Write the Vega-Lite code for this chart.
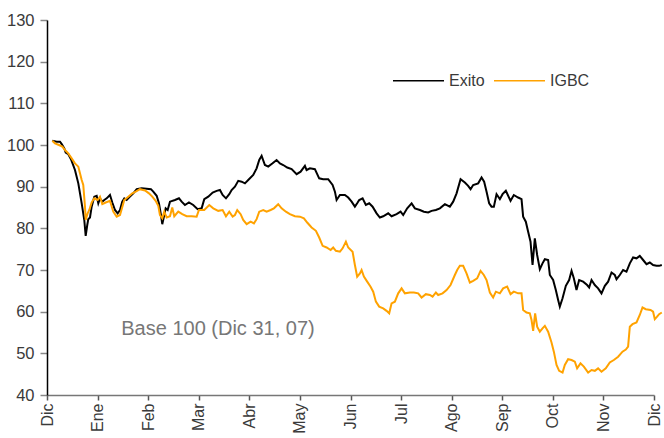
{
  "$schema": "https://vega.github.io/schema/vega-lite/v6.json",
  "width": 607,
  "height": 375,
  "autosize": {"type": "none"},
  "padding": {"left": 47, "top": 20, "right": 10, "bottom": 43},
  "background": "white",
  "config": {
    "view": {"stroke": null},
    "font": "Liberation Sans, Arial, sans-serif"
  },
  "datasets": {
    "series": [
      {"s":"Exito","t":0.105,"v":101.0},{"s":"Exito","t":0.192,"v":100.8},{"s":"Exito","t":0.257,"v":100.8},{"s":"Exito","t":0.291,"v":100.2},{"s":"Exito","t":0.342,"v":99.2},{"s":"Exito","t":0.370,"v":98.2},{"s":"Exito","t":0.421,"v":97.8},{"s":"Exito","t":0.474,"v":96.6},{"s":"Exito","t":0.553,"v":94.0},{"s":"Exito","t":0.619,"v":90.8},{"s":"Exito","t":0.686,"v":86.0},{"s":"Exito","t":0.737,"v":82.0},{"s":"Exito","t":0.765,"v":78.2},{"s":"Exito","t":0.796,"v":80.8},{"s":"Exito","t":0.816,"v":82.2},{"s":"Exito","t":0.850,"v":82.6},{"s":"Exito","t":0.883,"v":85.2},{"s":"Exito","t":0.935,"v":87.6},{"s":"Exito","t":0.982,"v":87.8},{"s":"Exito","t":1.014,"v":86.0},{"s":"Exito","t":1.047,"v":87.2},{"s":"Exito","t":1.093,"v":86.4},{"s":"Exito","t":1.132,"v":86.8},{"s":"Exito","t":1.180,"v":87.2},{"s":"Exito","t":1.245,"v":88.0},{"s":"Exito","t":1.291,"v":86.2},{"s":"Exito","t":1.344,"v":84.4},{"s":"Exito","t":1.397,"v":83.6},{"s":"Exito","t":1.443,"v":84.4},{"s":"Exito","t":1.488,"v":86.4},{"s":"Exito","t":1.528,"v":87.2},{"s":"Exito","t":1.575,"v":86.8},{"s":"Exito","t":1.640,"v":87.6},{"s":"Exito","t":1.706,"v":88.4},{"s":"Exito","t":1.773,"v":89.4},{"s":"Exito","t":1.872,"v":89.6},{"s":"Exito","t":1.970,"v":89.5},{"s":"Exito","t":2.055,"v":89.4},{"s":"Exito","t":2.101,"v":88.8},{"s":"Exito","t":2.168,"v":87.8},{"s":"Exito","t":2.213,"v":86.0},{"s":"Exito","t":2.253,"v":83.2},{"s":"Exito","t":2.279,"v":81.0},{"s":"Exito","t":2.318,"v":83.2},{"s":"Exito","t":2.346,"v":84.8},{"s":"Exito","t":2.385,"v":84.4},{"s":"Exito","t":2.431,"v":86.4},{"s":"Exito","t":2.530,"v":86.8},{"s":"Exito","t":2.609,"v":87.2},{"s":"Exito","t":2.662,"v":86.4},{"s":"Exito","t":2.727,"v":85.6},{"s":"Exito","t":2.806,"v":86.2},{"s":"Exito","t":2.891,"v":85.6},{"s":"Exito","t":2.978,"v":84.6},{"s":"Exito","t":3.057,"v":84.8},{"s":"Exito","t":3.109,"v":87.0},{"s":"Exito","t":3.188,"v":87.6},{"s":"Exito","t":3.275,"v":88.6},{"s":"Exito","t":3.354,"v":89.0},{"s":"Exito","t":3.419,"v":89.2},{"s":"Exito","t":3.472,"v":88.0},{"s":"Exito","t":3.538,"v":87.2},{"s":"Exito","t":3.603,"v":88.2},{"s":"Exito","t":3.650,"v":89.2},{"s":"Exito","t":3.715,"v":90.0},{"s":"Exito","t":3.781,"v":91.4},{"s":"Exito","t":3.848,"v":91.2},{"s":"Exito","t":3.913,"v":90.8},{"s":"Exito","t":3.978,"v":91.6},{"s":"Exito","t":4.077,"v":92.8},{"s":"Exito","t":4.144,"v":94.4},{"s":"Exito","t":4.196,"v":96.4},{"s":"Exito","t":4.243,"v":97.4},{"s":"Exito","t":4.308,"v":95.2},{"s":"Exito","t":4.374,"v":94.8},{"s":"Exito","t":4.460,"v":95.6},{"s":"Exito","t":4.539,"v":96.4},{"s":"Exito","t":4.605,"v":95.6},{"s":"Exito","t":4.670,"v":95.2},{"s":"Exito","t":4.749,"v":94.6},{"s":"Exito","t":4.836,"v":94.2},{"s":"Exito","t":4.935,"v":93.0},{"s":"Exito","t":5.014,"v":93.6},{"s":"Exito","t":5.099,"v":95.0},{"s":"Exito","t":5.132,"v":94.0},{"s":"Exito","t":5.198,"v":94.4},{"s":"Exito","t":5.296,"v":94.2},{"s":"Exito","t":5.381,"v":92.0},{"s":"Exito","t":5.460,"v":91.8},{"s":"Exito","t":5.559,"v":91.8},{"s":"Exito","t":5.646,"v":90.4},{"s":"Exito","t":5.692,"v":88.8},{"s":"Exito","t":5.725,"v":86.8},{"s":"Exito","t":5.791,"v":88.0},{"s":"Exito","t":5.889,"v":88.0},{"s":"Exito","t":5.955,"v":87.4},{"s":"Exito","t":6.022,"v":86.4},{"s":"Exito","t":6.087,"v":85.2},{"s":"Exito","t":6.132,"v":86.0},{"s":"Exito","t":6.172,"v":86.8},{"s":"Exito","t":6.239,"v":87.2},{"s":"Exito","t":6.304,"v":85.6},{"s":"Exito","t":6.370,"v":86.0},{"s":"Exito","t":6.437,"v":85.2},{"s":"Exito","t":6.516,"v":83.6},{"s":"Exito","t":6.581,"v":82.6},{"s":"Exito","t":6.646,"v":82.9},{"s":"Exito","t":6.745,"v":83.6},{"s":"Exito","t":6.812,"v":82.9},{"s":"Exito","t":6.911,"v":83.4},{"s":"Exito","t":6.990,"v":84.0},{"s":"Exito","t":7.042,"v":83.2},{"s":"Exito","t":7.121,"v":84.8},{"s":"Exito","t":7.208,"v":86.0},{"s":"Exito","t":7.273,"v":84.8},{"s":"Exito","t":7.372,"v":84.4},{"s":"Exito","t":7.451,"v":84.0},{"s":"Exito","t":7.536,"v":83.8},{"s":"Exito","t":7.603,"v":84.2},{"s":"Exito","t":7.688,"v":84.4},{"s":"Exito","t":7.767,"v":84.8},{"s":"Exito","t":7.866,"v":85.8},{"s":"Exito","t":7.964,"v":85.2},{"s":"Exito","t":8.030,"v":86.4},{"s":"Exito","t":8.097,"v":88.4},{"s":"Exito","t":8.176,"v":91.8},{"s":"Exito","t":8.261,"v":91.0},{"s":"Exito","t":8.326,"v":90.2},{"s":"Exito","t":8.374,"v":89.4},{"s":"Exito","t":8.425,"v":90.4},{"s":"Exito","t":8.524,"v":90.8},{"s":"Exito","t":8.591,"v":92.2},{"s":"Exito","t":8.642,"v":91.2},{"s":"Exito","t":8.690,"v":88.8},{"s":"Exito","t":8.741,"v":86.0},{"s":"Exito","t":8.788,"v":85.2},{"s":"Exito","t":8.834,"v":85.2},{"s":"Exito","t":8.887,"v":88.2},{"s":"Exito","t":8.953,"v":87.0},{"s":"Exito","t":9.006,"v":88.2},{"s":"Exito","t":9.071,"v":89.0},{"s":"Exito","t":9.164,"v":86.6},{"s":"Exito","t":9.229,"v":88.0},{"s":"Exito","t":9.314,"v":87.4},{"s":"Exito","t":9.381,"v":87.0},{"s":"Exito","t":9.413,"v":82.8},{"s":"Exito","t":9.466,"v":81.6},{"s":"Exito","t":9.512,"v":79.2},{"s":"Exito","t":9.559,"v":76.8},{"s":"Exito","t":9.599,"v":71.2},{"s":"Exito","t":9.644,"v":77.6},{"s":"Exito","t":9.690,"v":73.6},{"s":"Exito","t":9.743,"v":70.2},{"s":"Exito","t":9.796,"v":71.6},{"s":"Exito","t":9.842,"v":72.6},{"s":"Exito","t":9.907,"v":72.4},{"s":"Exito","t":9.941,"v":68.8},{"s":"Exito","t":10.006,"v":67.6},{"s":"Exito","t":10.059,"v":65.2},{"s":"Exito","t":10.105,"v":62.8},{"s":"Exito","t":10.138,"v":61.2},{"s":"Exito","t":10.192,"v":63.2},{"s":"Exito","t":10.257,"v":66.2},{"s":"Exito","t":10.322,"v":67.6},{"s":"Exito","t":10.370,"v":69.8},{"s":"Exito","t":10.415,"v":68.0},{"s":"Exito","t":10.468,"v":65.2},{"s":"Exito","t":10.520,"v":67.6},{"s":"Exito","t":10.599,"v":67.2},{"s":"Exito","t":10.678,"v":66.4},{"s":"Exito","t":10.718,"v":65.8},{"s":"Exito","t":10.765,"v":67.6},{"s":"Exito","t":10.830,"v":66.4},{"s":"Exito","t":10.895,"v":65.6},{"s":"Exito","t":10.962,"v":64.4},{"s":"Exito","t":11.028,"v":66.2},{"s":"Exito","t":11.093,"v":67.2},{"s":"Exito","t":11.160,"v":69.4},{"s":"Exito","t":11.225,"v":68.8},{"s":"Exito","t":11.259,"v":67.8},{"s":"Exito","t":11.324,"v":68.8},{"s":"Exito","t":11.389,"v":70.0},{"s":"Exito","t":11.456,"v":69.6},{"s":"Exito","t":11.522,"v":71.6},{"s":"Exito","t":11.587,"v":73.0},{"s":"Exito","t":11.654,"v":72.8},{"s":"Exito","t":11.719,"v":73.4},{"s":"Exito","t":11.785,"v":72.4},{"s":"Exito","t":11.852,"v":71.4},{"s":"Exito","t":11.917,"v":71.8},{"s":"Exito","t":11.982,"v":71.2},{"s":"Exito","t":12.049,"v":71.0},{"s":"Exito","t":12.101,"v":71.0},{"s":"Exito","t":12.154,"v":71.2},
      {"s":"IGBC","t":0.105,"v":101.0},{"s":"IGBC","t":0.158,"v":100.4},{"s":"IGBC","t":0.237,"v":100.0},{"s":"IGBC","t":0.302,"v":99.6},{"s":"IGBC","t":0.356,"v":98.8},{"s":"IGBC","t":0.421,"v":98.0},{"s":"IGBC","t":0.488,"v":96.8},{"s":"IGBC","t":0.553,"v":95.6},{"s":"IGBC","t":0.619,"v":94.8},{"s":"IGBC","t":0.686,"v":91.6},{"s":"IGBC","t":0.717,"v":90.4},{"s":"IGBC","t":0.751,"v":85.2},{"s":"IGBC","t":0.765,"v":82.0},{"s":"IGBC","t":0.804,"v":83.6},{"s":"IGBC","t":0.836,"v":84.4},{"s":"IGBC","t":0.883,"v":86.2},{"s":"IGBC","t":0.935,"v":87.2},{"s":"IGBC","t":1.002,"v":86.8},{"s":"IGBC","t":1.047,"v":87.6},{"s":"IGBC","t":1.093,"v":85.8},{"s":"IGBC","t":1.160,"v":86.2},{"s":"IGBC","t":1.245,"v":86.6},{"s":"IGBC","t":1.310,"v":84.0},{"s":"IGBC","t":1.377,"v":82.8},{"s":"IGBC","t":1.443,"v":83.2},{"s":"IGBC","t":1.528,"v":86.8},{"s":"IGBC","t":1.607,"v":87.6},{"s":"IGBC","t":1.686,"v":88.4},{"s":"IGBC","t":1.753,"v":88.8},{"s":"IGBC","t":1.838,"v":89.4},{"s":"IGBC","t":1.937,"v":89.1},{"s":"IGBC","t":2.016,"v":88.4},{"s":"IGBC","t":2.081,"v":87.6},{"s":"IGBC","t":2.148,"v":86.6},{"s":"IGBC","t":2.200,"v":85.4},{"s":"IGBC","t":2.233,"v":83.2},{"s":"IGBC","t":2.279,"v":82.4},{"s":"IGBC","t":2.318,"v":84.0},{"s":"IGBC","t":2.366,"v":82.6},{"s":"IGBC","t":2.431,"v":82.9},{"s":"IGBC","t":2.476,"v":85.0},{"s":"IGBC","t":2.516,"v":82.9},{"s":"IGBC","t":2.595,"v":84.0},{"s":"IGBC","t":2.674,"v":83.4},{"s":"IGBC","t":2.761,"v":82.9},{"s":"IGBC","t":2.860,"v":82.9},{"s":"IGBC","t":2.958,"v":82.8},{"s":"IGBC","t":3.004,"v":84.4},{"s":"IGBC","t":3.109,"v":84.4},{"s":"IGBC","t":3.208,"v":85.6},{"s":"IGBC","t":3.287,"v":84.8},{"s":"IGBC","t":3.385,"v":84.2},{"s":"IGBC","t":3.472,"v":84.4},{"s":"IGBC","t":3.538,"v":82.9},{"s":"IGBC","t":3.603,"v":84.0},{"s":"IGBC","t":3.670,"v":82.8},{"s":"IGBC","t":3.715,"v":83.2},{"s":"IGBC","t":3.761,"v":84.4},{"s":"IGBC","t":3.828,"v":83.4},{"s":"IGBC","t":3.879,"v":82.0},{"s":"IGBC","t":3.947,"v":81.0},{"s":"IGBC","t":4.026,"v":81.6},{"s":"IGBC","t":4.091,"v":81.2},{"s":"IGBC","t":4.144,"v":82.2},{"s":"IGBC","t":4.196,"v":84.0},{"s":"IGBC","t":4.275,"v":84.4},{"s":"IGBC","t":4.342,"v":84.0},{"s":"IGBC","t":4.421,"v":84.4},{"s":"IGBC","t":4.486,"v":84.8},{"s":"IGBC","t":4.571,"v":85.8},{"s":"IGBC","t":4.638,"v":84.8},{"s":"IGBC","t":4.723,"v":84.0},{"s":"IGBC","t":4.802,"v":83.4},{"s":"IGBC","t":4.901,"v":82.9},{"s":"IGBC","t":5.000,"v":82.8},{"s":"IGBC","t":5.079,"v":82.4},{"s":"IGBC","t":5.144,"v":81.4},{"s":"IGBC","t":5.231,"v":80.2},{"s":"IGBC","t":5.316,"v":79.4},{"s":"IGBC","t":5.381,"v":77.8},{"s":"IGBC","t":5.449,"v":75.8},{"s":"IGBC","t":5.528,"v":75.4},{"s":"IGBC","t":5.607,"v":74.8},{"s":"IGBC","t":5.658,"v":75.4},{"s":"IGBC","t":5.711,"v":74.6},{"s":"IGBC","t":5.791,"v":74.4},{"s":"IGBC","t":5.844,"v":75.2},{"s":"IGBC","t":5.909,"v":76.8},{"s":"IGBC","t":5.955,"v":75.4},{"s":"IGBC","t":6.041,"v":74.4},{"s":"IGBC","t":6.087,"v":71.2},{"s":"IGBC","t":6.132,"v":68.4},{"s":"IGBC","t":6.186,"v":69.2},{"s":"IGBC","t":6.219,"v":70.0},{"s":"IGBC","t":6.265,"v":68.4},{"s":"IGBC","t":6.330,"v":67.2},{"s":"IGBC","t":6.397,"v":66.0},{"s":"IGBC","t":6.449,"v":64.8},{"s":"IGBC","t":6.502,"v":62.4},{"s":"IGBC","t":6.567,"v":61.2},{"s":"IGBC","t":6.646,"v":60.8},{"s":"IGBC","t":6.713,"v":60.2},{"s":"IGBC","t":6.765,"v":59.6},{"s":"IGBC","t":6.812,"v":62.0},{"s":"IGBC","t":6.877,"v":62.4},{"s":"IGBC","t":6.943,"v":64.4},{"s":"IGBC","t":7.010,"v":65.6},{"s":"IGBC","t":7.075,"v":64.4},{"s":"IGBC","t":7.174,"v":64.6},{"s":"IGBC","t":7.253,"v":64.6},{"s":"IGBC","t":7.338,"v":64.4},{"s":"IGBC","t":7.405,"v":63.4},{"s":"IGBC","t":7.490,"v":64.2},{"s":"IGBC","t":7.569,"v":64.0},{"s":"IGBC","t":7.623,"v":63.6},{"s":"IGBC","t":7.688,"v":64.6},{"s":"IGBC","t":7.733,"v":64.0},{"s":"IGBC","t":7.820,"v":64.4},{"s":"IGBC","t":7.899,"v":65.2},{"s":"IGBC","t":7.978,"v":66.4},{"s":"IGBC","t":8.063,"v":68.8},{"s":"IGBC","t":8.109,"v":70.0},{"s":"IGBC","t":8.162,"v":71.0},{"s":"IGBC","t":8.227,"v":71.0},{"s":"IGBC","t":8.294,"v":69.2},{"s":"IGBC","t":8.360,"v":67.0},{"s":"IGBC","t":8.425,"v":67.4},{"s":"IGBC","t":8.504,"v":68.0},{"s":"IGBC","t":8.571,"v":69.8},{"s":"IGBC","t":8.636,"v":68.8},{"s":"IGBC","t":8.690,"v":67.6},{"s":"IGBC","t":8.755,"v":64.6},{"s":"IGBC","t":8.820,"v":63.4},{"s":"IGBC","t":8.874,"v":64.8},{"s":"IGBC","t":8.953,"v":64.4},{"s":"IGBC","t":9.018,"v":65.6},{"s":"IGBC","t":9.097,"v":66.0},{"s":"IGBC","t":9.164,"v":64.2},{"s":"IGBC","t":9.229,"v":64.8},{"s":"IGBC","t":9.314,"v":64.4},{"s":"IGBC","t":9.381,"v":64.4},{"s":"IGBC","t":9.413,"v":60.4},{"s":"IGBC","t":9.480,"v":59.8},{"s":"IGBC","t":9.545,"v":59.6},{"s":"IGBC","t":9.579,"v":58.0},{"s":"IGBC","t":9.611,"v":55.4},{"s":"IGBC","t":9.650,"v":59.6},{"s":"IGBC","t":9.690,"v":56.4},{"s":"IGBC","t":9.743,"v":55.2},{"s":"IGBC","t":9.796,"v":56.0},{"s":"IGBC","t":9.842,"v":56.6},{"s":"IGBC","t":9.907,"v":55.2},{"s":"IGBC","t":9.974,"v":52.6},{"s":"IGBC","t":10.020,"v":50.4},{"s":"IGBC","t":10.073,"v":47.2},{"s":"IGBC","t":10.125,"v":45.8},{"s":"IGBC","t":10.192,"v":45.4},{"s":"IGBC","t":10.237,"v":47.2},{"s":"IGBC","t":10.302,"v":48.6},{"s":"IGBC","t":10.370,"v":48.4},{"s":"IGBC","t":10.435,"v":48.0},{"s":"IGBC","t":10.480,"v":46.4},{"s":"IGBC","t":10.547,"v":47.6},{"s":"IGBC","t":10.613,"v":46.8},{"s":"IGBC","t":10.698,"v":45.4},{"s":"IGBC","t":10.765,"v":46.0},{"s":"IGBC","t":10.830,"v":45.8},{"s":"IGBC","t":10.895,"v":46.4},{"s":"IGBC","t":10.962,"v":45.6},{"s":"IGBC","t":11.047,"v":46.4},{"s":"IGBC","t":11.126,"v":47.8},{"s":"IGBC","t":11.206,"v":48.4},{"s":"IGBC","t":11.291,"v":49.2},{"s":"IGBC","t":11.377,"v":50.4},{"s":"IGBC","t":11.443,"v":50.9},{"s":"IGBC","t":11.488,"v":51.6},{"s":"IGBC","t":11.522,"v":56.4},{"s":"IGBC","t":11.575,"v":57.0},{"s":"IGBC","t":11.654,"v":57.4},{"s":"IGBC","t":11.719,"v":59.2},{"s":"IGBC","t":11.773,"v":61.0},{"s":"IGBC","t":11.838,"v":60.6},{"s":"IGBC","t":11.931,"v":60.4},{"s":"IGBC","t":11.982,"v":60.0},{"s":"IGBC","t":12.016,"v":58.2},{"s":"IGBC","t":12.061,"v":58.8},{"s":"IGBC","t":12.101,"v":59.4},{"s":"IGBC","t":12.154,"v":59.8}
    ],
    "note": [{"t": 3.38, "v": 55.8, "label": "Base 100 (Dic 31, 07)"}]
  },
  "layer": [
    {
      "data": {"name": "series"},
      "mark": {"type": "line", "strokeWidth": 2, "clip": false},
      "encoding": {
        "x": {
          "field": "t", "type": "quantitative",
          "scale": {"domain": [0, 12], "nice": false, "zero": false},
          "axis": {
            "values": [0,1,2,3,4,5,6,7,8,9,10,11,12],
            "labelExpr": "['Dic','Ene','Feb','Mar','Abr','May','Jun','Jul','Ago','Sep','Oct','Nov','Dic'][datum.value]",
            "labelAngle": -90, "grid": false, "title": null,
            "domainColor": "#777777", "domainWidth": 1.5,
            "tickColor": "#555555", "tickSize": 5, "tickWidth": 1.5,
            "labelPadding": 3, "labelFontSize": 16, "labelColor": "#3a3a3a",
            "labelFont": "Liberation Sans, Arial, sans-serif"
          }
        },
        "y": {
          "field": "v", "type": "quantitative",
          "scale": {"domain": [40, 130], "nice": false, "zero": false},
          "axis": {
            "values": [40,50,60,70,80,90,100,110,120,130],
            "grid": false, "title": null,
            "domainColor": "#000000", "domainWidth": 1.5,
            "tickColor": "#888888", "tickSize": 7, "tickWidth": 1.5,
            "labelPadding": 6, "labelFontSize": 16.5, "labelColor": "#3a3a3a",
            "labelFont": "Liberation Sans, Arial, sans-serif"
          }
        },
        "color": {
          "field": "s", "type": "nominal",
          "scale": {"domain": ["Exito", "IGBC"], "range": ["#000000", "#FFA200"]},
          "legend": {
            "title": null, "orient": "none", "legendX": 345, "legendY": 34,
            "direction": "horizontal", "symbolType": "stroke", "symbolSize": 2601,
            "symbolStrokeWidth": 1.5, "labelFontSize": 16, "labelColor": "#3a3a3a",
            "labelFont": "Liberation Sans, Arial, sans-serif",
            "labelOffset": 4, "columnPadding": 6, "padding": 0
          }
        }
      }
    },
    {
      "data": {"name": "note"},
      "mark": {"type": "text", "fontSize": 20, "color": "#777777", "font": "Liberation Sans, Arial, sans-serif"},
      "encoding": {
        "x": {"field": "t", "type": "quantitative"},
        "y": {"field": "v", "type": "quantitative"},
        "text": {"field": "label"}
      }
    }
  ]
}
